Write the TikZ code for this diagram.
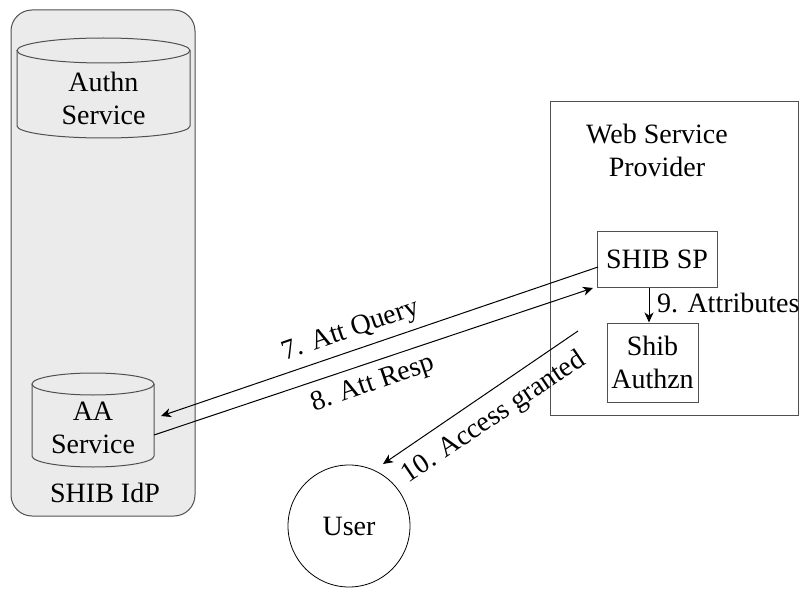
\documentclass[tikz,border=0pt]{standalone}
\usepackage{fontspec}
\setmainfont{Liberation Serif}
\usetikzlibrary{arrows.meta,calc}
\definecolor{idpfill}{HTML}{EBEBEB}
\definecolor{frame}{HTML}{505050}
\tikzset{
  lbl/.style={font=\fontsize{28}{33}\selectfont, align=center, inner sep=0pt},
  boxed/.style={draw=frame, line width=1pt},
  conn/.style={draw=black, line width=1pt, -{Stealth[length=10pt,width=9pt,inset=3pt]}},
  cyl/.style={draw=frame, line width=1pt},
}
\begin{document}
\begin{tikzpicture}[x=1pt,y=-1pt]
\useasboundingbox (0,0) rectangle (801,591);
% IdP container
\draw[boxed, fill=idpfill, rounded corners=21pt] (11,10) rectangle (195,516);
\node[lbl] (idp) at (105,493) {SHIB IdP};
% Authn cylinder
\draw[cyl] (17,50.5) -- (17,126) arc[start angle=180,end angle=0,x radius=86.5,y radius=12] -- (190,50.5);
\draw[cyl] (103.5,50.5) ellipse[x radius=86.5,y radius=12.5];
\node[lbl] (authn) at (103.5,98) {Authn\\Service};
% AA cylinder
\draw[cyl] (32,384) -- (32,456) arc[start angle=180,end angle=0,x radius=61,y radius=11] -- (154,384);
\draw[cyl] (93,384) ellipse[x radius=61,y radius=11];
\node[lbl, minimum width=122pt, minimum height=72pt] (aa) at (93,428) {AA\\Service};
% Web service provider
\draw[boxed] (550,102) rectangle (798,415);
\node[lbl] (wsp) at (657,150) {Web Service\\Provider};
\node[boxed, lbl, minimum width=120pt, minimum height=56pt] (sp) at (657,259) {SHIB SP};
\node[boxed, lbl, minimum width=91pt, minimum height=79pt] (authz) at (652.5,362.5) {Shib\\Authzn};
% User
\node[draw=black, line width=0.8pt, circle, minimum size=122pt, lbl] (user) at (349,526) {User};
% connectors
\coordinate (q7s) at (598,267);
\coordinate (q7e) at (161,416);
\coordinate (r8s) at (154,435);
\coordinate (r8e) at (593,288);
\coordinate (a10s) at (578,331);
\coordinate (a10e) at (383,464);
\draw[conn] (q7s) -- (q7e);
\draw[conn] (r8s) -- (r8e);
\draw[conn] (sp.south -| 649,0) -- (authz.north -| 649,0);
\draw[conn] (a10s) -- (a10e);
\node[lbl, anchor=west] (l9) at (657,303) {9. Attributes};
\node[lbl, rotate=19] (l7) at (351,331) {7. Att Query};
\node[lbl, rotate=19] (l8) at (373,384) {8. Att Resp};
\node[lbl, rotate=34] (l10) at (494,418) {10. Access granted};
\end{tikzpicture}
\end{document}
